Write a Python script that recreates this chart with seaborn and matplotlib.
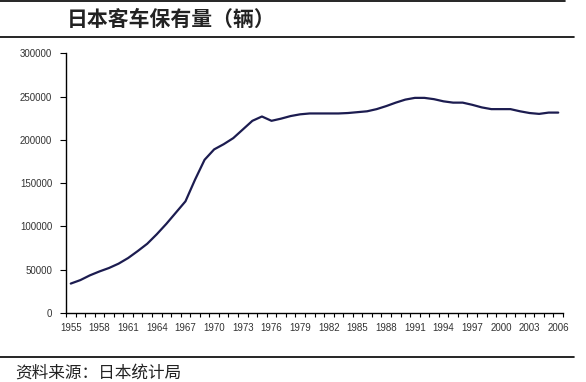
import numpy as np
import pandas as pd
import matplotlib
matplotlib.use("Agg")
import matplotlib.pyplot as plt
import seaborn as sns
from matplotlib.ticker import MultipleLocator, FixedLocator

# data: passenger car stock in Japan
years = list(range(1955, 2007))
cars = [34000, 38000, 43500, 48000, 52000, 57000, 63500, 71500, 80000, 91000,
        103000, 116000, 129000, 154000, 177000, 189000, 195000, 202000, 212000, 222000,
        227000, 222000, 224500, 227500, 229500, 230500, 230500, 230500, 230500, 231000,
        232000, 233000, 235500, 239000, 243000, 246500, 248500, 248500, 247000, 244500,
        243000, 243000, 240500, 237500, 235500, 235500, 235500, 233000, 231000, 230000,
        231500, 231500]
label_years = list(range(1955, 2007, 3))

title = "日本客车保有量（辆）"
source = "资料来源：日本统计局"

df = pd.DataFrame({"year": years, "cars": cars})

sns.set_style("white")
plt.rcParams['font.family'] = ['Noto Sans CJK SC', 'DejaVu Sans']

fig = plt.figure(figsize=(5.86, 3.82), dpi=100)
ax = fig.add_axes([0.1126, 0.1806, 0.8482, 0.6799])

#line
sns.lineplot(data=df, x="year", y="cars", ax=ax, color="#1c1c50", linewidth=1.6)

ax.set_xlim(1954.5, 2006.5)
ax.set_ylim(0, 300000)
ax.yaxis.set_major_locator(MultipleLocator(50000))
ax.xaxis.set_major_locator(FixedLocator(label_years))
ax.xaxis.set_minor_locator(FixedLocator(np.arange(1954.5, 2007, 1)))
ax.set_xticklabels([str(y) for y in label_years])
ax.set_xlabel("")
ax.set_ylabel("")

for lab in ax.get_xticklabels() + ax.get_yticklabels():
    lab.set_family("Liberation Sans")
    lab.set_fontsize(7)
    lab.set_color("#333333")

ax.tick_params(axis="x", which="major", length=0, pad=7)
ax.tick_params(axis="x", which="minor", length=3, width=0.8, color="black", direction="out")
ax.tick_params(axis="y", which="major", length=4, width=0.8, color="black", direction="out", pad=6)
ax.tick_params(bottom=True, left=True, which="both")

sns.despine(ax=ax)
for s in ["left", "bottom"]:
    ax.spines[s].set_color("black")
    ax.spines[s].set_linewidth(1.0)

# title, source and rules
fig.text(0.292, 0.948, title, fontsize=15, fontweight="bold", ha="center", va="center", color="#222222")
fig.text(0.026, 0.024, source, fontsize=12, ha="left", va="center", color="#222222")
fig.add_artist(plt.Line2D([0, 0.965], [0.997, 0.997], color="black", linewidth=1.2))
fig.add_artist(plt.Line2D([0, 0.98], [0.903, 0.903], color="black", linewidth=1.2))
fig.add_artist(plt.Line2D([0, 0.98], [0.065, 0.065], color="black", linewidth=1.2))

plt.savefig("out.png", dpi=100)
